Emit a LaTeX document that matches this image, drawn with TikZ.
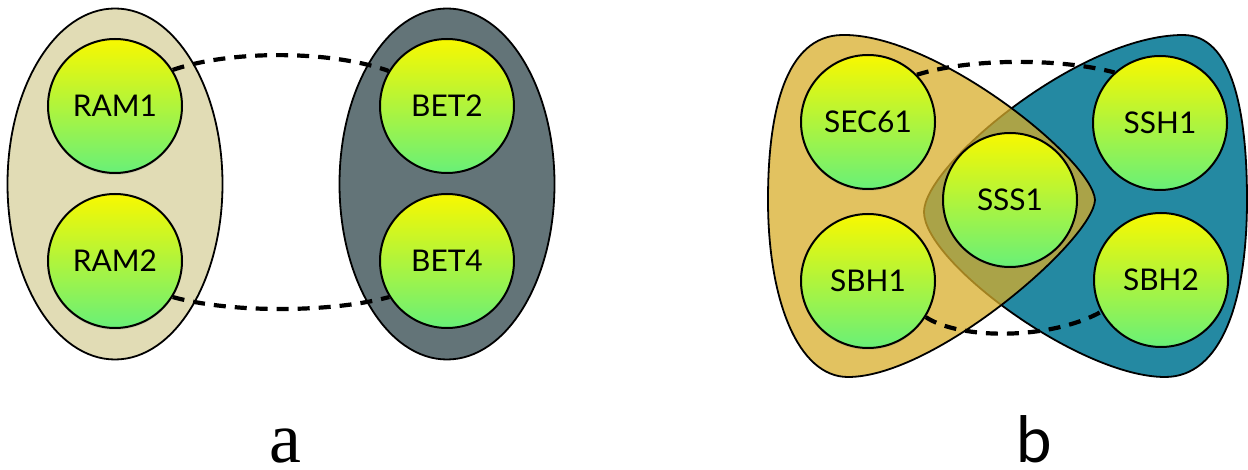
\documentclass[tikz,border=0pt]{standalone}
\usepackage{fontspec}
\setmainfont{Liberation Serif}
\newfontfamily\labelsans{Lato}
\newfontfamily\labelserif{Liberation Serif}
\usetikzlibrary{shadows}
\pgfdeclarelayer{back}
\pgfdeclarelayer{links}
\pgfsetlayers{back,links,main}
\definecolor{beige}{RGB}{225,220,181}
\definecolor{slate}{RGB}{99,116,120}
\definecolor{ochre}{RGB}{216,173,43}
\definecolor{teal}{RGB}{36,137,162}
\definecolor{ctop}{RGB}{248,248,0}
\definecolor{cbot}{RGB}{104,240,120}
\tikzset{
  prot/.style={circle, draw=black, line width=2bp, minimum size=134bp, inner sep=0pt,
    top color=ctop, bottom color=cbot, font=\labelsans\fontsize{30}{32}\selectfont,
    drop shadow={shadow xshift=0bp, shadow yshift=-2bp, opacity=0.18}},
  grp/.style={draw=black, line width=1.8bp},
  link/.style={line width=4.2bp, black, dash pattern=on 12bp off 9bp},
}
\begin{document}
\begin{tikzpicture}[x=1bp,y=1bp]
\useasboundingbox (0,0) rectangle (1248,-470);
% proteins
\node[prot] (ram1) at (115,-106) {RAM1};
\node[prot] (ram2) at (115,-261) {RAM2};
\node[prot] (bet2) at (447,-106) {BET2};
\node[prot] (bet4) at (447,-261) {BET4};
\node[prot] (sec61) at (868,-122) {SEC61};
\node[prot] (sbh1) at (868,-281) {SBH1};
\node[prot] (sss1) at (1010,-200) {SSS1};
\node[prot] (ssh1) at (1160,-123) {SSH1};
\node[prot] (sbh2) at (1161,-280) {SBH2};
% group shapes
\begin{pgfonlayer}{back}
\draw[grp, fill=beige] (115,-184) ellipse [x radius=107.5, y radius=175.5];
\draw[grp, fill=slate] (447,-184) ellipse [x radius=107.5, y radius=175.5];
\draw[grp, fill=teal] (924,-212) .. controls (924,-165) and (1080,-35) .. (1183,-35)
  .. controls (1232,-35) and (1247,-110) .. (1247,-200)
  .. controls (1247,-300) and (1222,-377) .. (1165,-377)
  .. controls (1080,-377) and (924,-262) .. cycle;
\draw[grp, fill=ochre, fill opacity=0.75] (1095,-200) .. controls (1093,-160) and (935,-33) .. (842,-35)
  .. controls (786,-36) and (768,-110) .. (768,-200)
  .. controls (768,-300) and (798,-377) .. (848,-377)
  .. controls (935,-377) and (1093,-240) .. cycle;
\end{pgfonlayer}
% dashed links
\begin{pgfonlayer}{links}
\draw[link] (ram1.32) .. controls (230,-50) and (330,-50) .. (bet2.149);
\draw[link] (ram2.-32) .. controls (230,-313) and (330,-313) .. (bet4.212);
\draw[link] (sec61.44) .. controls (970,-58) and (1060,-58) .. (ssh1.132);
\draw[link] (sbh1.-32) .. controls (960,-340) and (1050,-340) .. (sbh2.208);
\end{pgfonlayer}
% labels
\node[anchor=base, inner sep=0pt, font=\labelserif\fontsize{72}{80}\selectfont] (la) at (285,-463) {a};
\node[anchor=base, inner sep=0pt, font=\labelsans\fontsize{64}{70}\selectfont] (lb) at (1034,-463) {b};
\end{tikzpicture}
\end{document}
